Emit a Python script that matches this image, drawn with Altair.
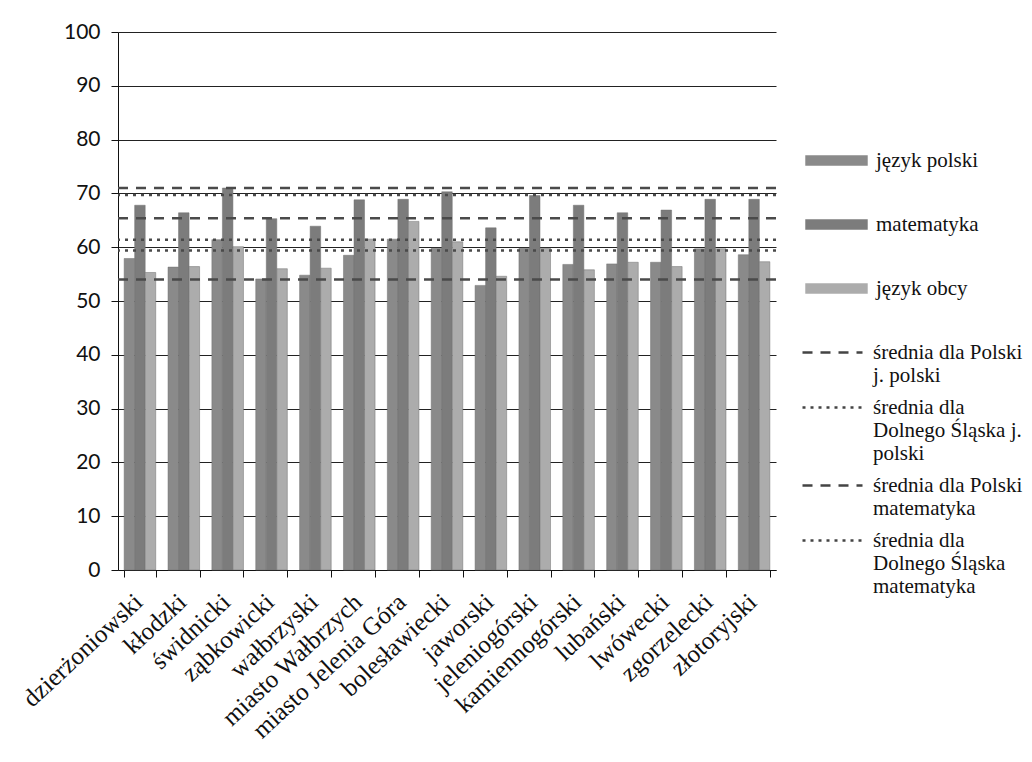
import altair as alt
import pandas as pd

districts = ["dzierżoniowski", "kłodzki", "świdnicki", "ząbkowicki", "wałbrzyski",
             "miasto Wałbrzych", "miasto Jelenia Góra", "bolesławiecki", "jaworski",
             "jeleniogórski", "kamiennogórski", "lubański", "lwówecki", "zgorzelecki",
             "złotoryjski"]
subjects = ["język polski", "matematyka", "język obcy"]
jezyk_polski = [57.9, 56.3, 61.4, 54.1, 54.8, 58.5, 61.5, 59.8, 52.9, 59.8, 56.8, 56.9, 57.2, 59.7, 58.6]
matematyka = [67.8, 66.4, 71.0, 65.3, 63.9, 68.8, 68.9, 70.3, 63.6, 69.6, 67.8, 66.4, 66.9, 68.9, 68.9]
jezyk_obcy = [55.3, 56.4, 60.1, 56.0, 56.1, 61.5, 64.8, 61.0, 54.6, 59.8, 55.8, 57.2, 56.4, 59.7, 57.3]

avg_labels = ["średnia dla Polski\nj. polski",
              "średnia dla\nDolnego Śląska j.\npolski",
              "średnia dla Polski\nmatematyka",
              "średnia dla\nDolnego Śląska\nmatematyka",
              "średnia dla Polski\njęzyk obcy",
              "średnia dla\nDolnego Śląska\njęzyk obcy"]
avg_values = [65.4, 61.4, 71.0, 69.7, 54.0, 59.4]

rows = []
for i, d in enumerate(districts):
    for s, vals in zip(subjects, [jezyk_polski, matematyka, jezyk_obcy]):
        rows.append({"powiat": d, "przedmiot": s, "wynik": vals[i]})
bars_df = pd.DataFrame(rows)
avg_df = pd.DataFrame({"linia": avg_labels, "wartosc": avg_values})

serif = "Liberation Serif, Times New Roman, Times, DejaVu Serif, serif"

bars = alt.Chart(bars_df).mark_bar(stroke="#707070", strokeWidth=0.5).encode(
    x=alt.X("powiat:N", sort=districts, title=None,
            scale=alt.Scale(paddingInner=0.28, paddingOuter=0.14),
            axis=alt.Axis(labelAngle=-43, labelFont=serif, labelFontSize=25,
                          labelColor="#111", tickBand="extent", tickSize=7,
                          tickColor="#111", domainColor="#111", labelPadding=12,
                          labelOffset=-10, labelLimit=400, grid=False)),
    xOffset=alt.XOffset("przedmiot:N", sort=subjects),
    y=alt.Y("wynik:Q", title=None,
            scale=alt.Scale(domain=[0, 100]),
            axis=alt.Axis(values=list(range(0, 101, 10)), labelFont="Lato",
                          labelFontSize=21, labelColor="#111", tickSize=7,
                          tickColor="#111", domainColor="#111", gridColor="#222",
                          gridWidth=1, labelPadding=11)),
    color=alt.Color("przedmiot:N", sort=subjects,
                    scale=alt.Scale(domain=subjects, range=["#8a8a8a", "#7c7c7c", "#acacac"]),
                    legend=alt.Legend(title=None, orient="none", legendX=687, legendY=97,
                                      symbolType="M-1,-0.17H1V0.17H-1Z", symbolSize=3900,
                                      symbolStrokeWidth=0, labelFont=serif, labelFontSize=21,
                                      labelColor="#111", rowPadding=22, labelOffset=8)),
)

lines = alt.Chart(avg_df).mark_rule(strokeWidth=2.5, color="#4a4a4a").encode(
    y="wartosc:Q",
    strokeDash=alt.StrokeDash("linia:N", sort=avg_labels,
                              scale=alt.Scale(domain=avg_labels,
                                              range=[[10, 8], [3, 5], [10, 8], [3, 5], [10, 8], [3, 5]]),
                              legend=alt.Legend(title=None, orient="none", legendX=704, legendY=310,
                                                values=avg_labels[:4], symbolType="M-4,0H4",
                                                symbolSize=225, symbolStrokeWidth=2.5,
                                                symbolStrokeColor="#444",
                                                symbolFillColor="transparent", labelFont=serif,
                                                labelFontSize=21, labelColor="#111",
                                                labelExpr="split(datum.label, '\\n')",
                                                labelLimit=300, rowPadding=10, labelOffset=30)),
)

chart = alt.layer(bars, lines).properties(
    width=658, height=538,
    autosize=alt.AutoSizeParams(type="none"),
    padding={"left": 110, "top": 24, "right": 248, "bottom": 184},
).configure(background="white").configure_view(stroke=None)

chart.save("out.html", embed_options={"renderer": "svg", "actions": False})
